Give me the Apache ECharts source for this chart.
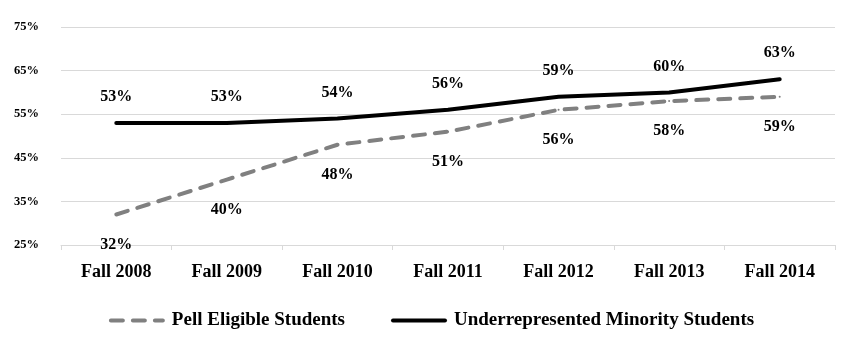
<!DOCTYPE html>
<html><head><meta charset="utf-8">
<script src="https://cdn.jsdelivr.net/npm/echarts@6/dist/echarts.min.js"></script>
<style>html,body{margin:0;padding:0;background:#fff}#c{width:863px;height:362px}</style>
</head><body><div id="c"></div>
<script>
var categories = ['Fall 2008','Fall 2009','Fall 2010','Fall 2011','Fall 2012','Fall 2013','Fall 2014'];
var pellEligible = [32,40,48,51,56,58,59];
var underrepMinority = [53,53,54,56,59,60,63];
var seriesNames = ['Pell Eligible Students','Underrepresented Minority Students'];
var FONT = '"Liberation Serif", "DejaVu Serif", serif';
var chart = echarts.init(document.getElementById('c'));
chart.setOption({
  animation:false,
  textStyle:{fontFamily:FONT},
  grid:{left:61,right:28,top:27,bottom:117,containLabel:false},
  legend:{
    top:306,left:'center',itemWidth:52,itemHeight:14,itemGap:46,
    itemStyle:{opacity:0},
    lineStyle:{width:4},
    textStyle:{fontFamily:FONT,fontWeight:'bold',fontSize:19,color:'#000',padding:[0,0,0,4]},
    data:seriesNames
  },
  xAxis:{
    type:'category',data:categories,boundaryGap:true,
    axisLine:{lineStyle:{color:'#d9d9d9',width:1}},
    axisTick:{show:true,length:5,lineStyle:{color:'#d9d9d9'}},
    axisLabel:{fontFamily:FONT,fontWeight:'bold',fontSize:18,color:'#000',margin:18}
  },
  yAxis:{
    type:'value',min:25,max:75,interval:5,
    axisLine:{show:false},axisTick:{show:false},
    splitLine:{show:true,lineStyle:{color:['#d9d9d9','rgba(0,0,0,0)'],width:1}},
    axisLabel:{fontFamily:FONT,fontWeight:'bold',fontSize:12.5,color:'#000',margin:22,
      formatter:function(v){return ((v-25)%10===0)? v+'%' : '';}}
  },
  series:[
    {name:seriesNames[0],type:'line',data:pellEligible,symbol:'circle',symbolSize:2,showSymbol:true,
     lineStyle:{color:'#808080',width:4,type:[12,10],cap:'round'},
     itemStyle:{color:'#808080'},
     label:{show:true,position:'bottom',distance:21,formatter:'{c}%',fontFamily:FONT,fontWeight:'bold',fontSize:16,color:'#000'}},
    {name:seriesNames[1],type:'line',data:underrepMinority,symbol:'circle',symbolSize:2,showSymbol:true,
     lineStyle:{color:'#000',width:4,cap:'round'},
     itemStyle:{color:'#000'},
     label:{show:true,position:'top',distance:17,formatter:'{c}%',fontFamily:FONT,fontWeight:'bold',fontSize:16,color:'#000'}}
  ]
});
</script></body></html>
